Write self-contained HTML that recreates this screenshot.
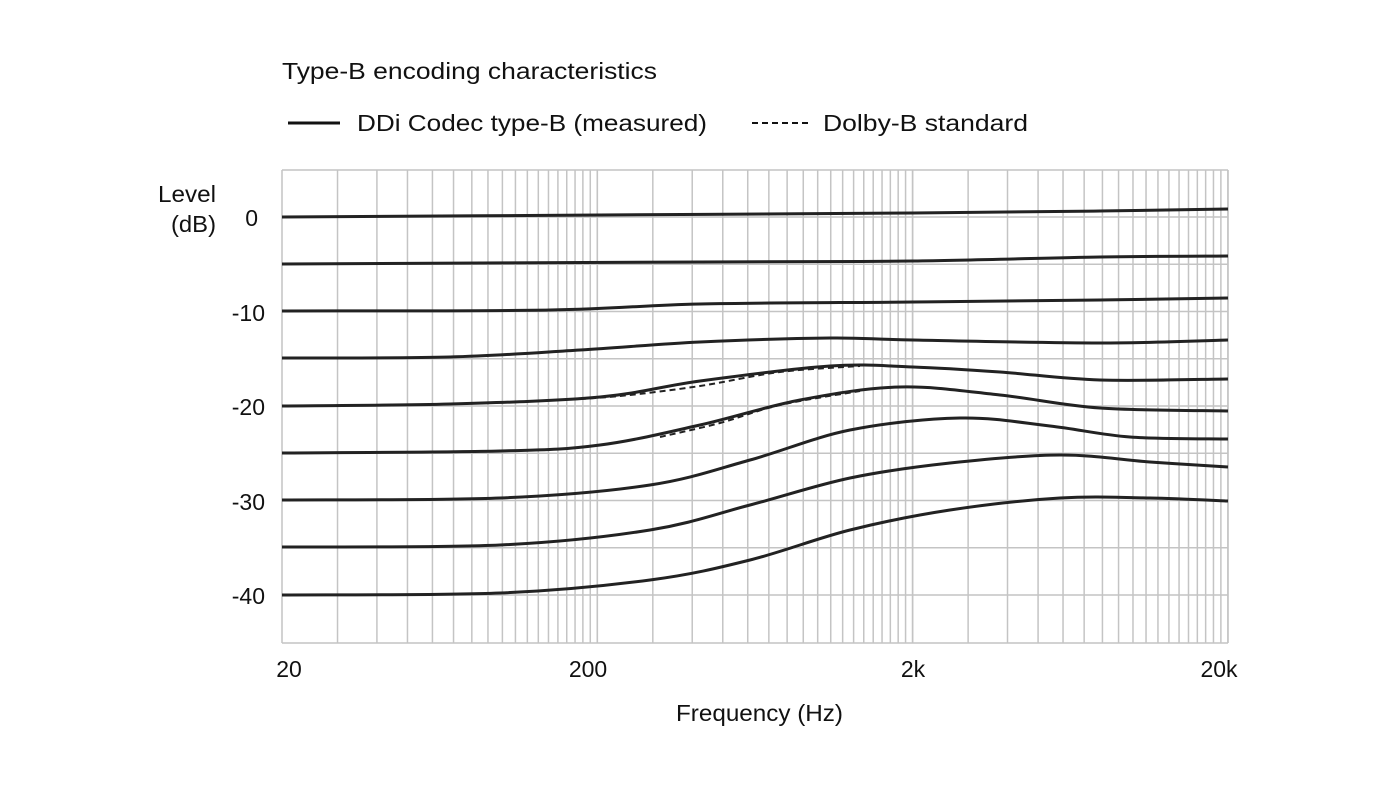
<!DOCTYPE html>
<html><head><meta charset="utf-8"><style>
body{margin:0;background:#fff;}
svg{display:block;font-family:"Liberation Sans",sans-serif;}
</style></head><body>
<svg id="s" width="1399" height="787" xmlns="http://www.w3.org/2000/svg">
<g id="grid" stroke="#c4c4c4" stroke-width="1.5" fill="none"></g>
<g id="curves" fill="none" stroke="#222" stroke-width="3"></g>
<g font-size="23" fill="#111">
<text x="282" y="79" textLength="375" lengthAdjust="spacingAndGlyphs">Type-B encoding characteristics</text>
<line x1="288" y1="123" x2="340" y2="123" stroke="#111" stroke-width="3"/>
<text x="357" y="131" textLength="350" lengthAdjust="spacingAndGlyphs">DDi Codec type-B (measured)</text>
<line x1="752" y1="123" x2="810" y2="123" stroke="#111" stroke-width="2" stroke-dasharray="6,4"/>
<text x="823" y="131" textLength="205" lengthAdjust="spacingAndGlyphs">Dolby-B standard</text>
<text x="158" y="202" textLength="58" lengthAdjust="spacingAndGlyphs">Level</text>
<text x="171" y="232" textLength="45" lengthAdjust="spacingAndGlyphs">(dB)</text>
<text x="258" y="226" text-anchor="end">0</text>
<text x="265" y="321" text-anchor="end">-10</text>
<text x="265" y="415" text-anchor="end">-20</text>
<text x="265" y="510" text-anchor="end">-30</text>
<text x="265" y="604" text-anchor="end">-40</text>
<text x="289" y="677" text-anchor="middle">20</text>
<text x="588" y="677" text-anchor="middle">200</text>
<text x="913" y="677" text-anchor="middle">2k</text>
<text x="1219" y="677" text-anchor="middle">20k</text>
<text x="676" y="721" textLength="167" lengthAdjust="spacingAndGlyphs">Frequency (Hz)</text>
</g>
</svg>
<script>
const X0=282,D=315.3,L=170,B=643,R=1228;
let g='';
for(let d=0;d<3;d++){const s=10*Math.pow(10,d);for(let k=2;k<=20;k++){const f=k*s;const x=X0+D*Math.log10(f/20);g+=`<line x1="${x}" y1="${L}" x2="${x}" y2="${B}"/>`;}}
g+=`<line x1="${X0}" y1="${L}" x2="${R}" y2="${L}"/><line x1="${X0}" y1="${B}" x2="${R}" y2="${B}"/><line x1="${R}" y1="${L}" x2="${R}" y2="${B}"/>`;
for(let k=0;k<=8;k++){const y=217+k*47.25;g+=`<line x1="${X0}" y1="${y}" x2="${R}" y2="${y}"/>`;}
document.getElementById('grid').innerHTML=g;
function cr(p){let s=`M${p[0][0]},${p[0][1]}`;for(let i=0;i<p.length-1;i++){const a=p[i-1]||p[i],b=p[i],c=p[i+1],d=p[i+2]||c;s+=` C${b[0]+(c[0]-a[0])/6},${b[1]+(c[1]-a[1])/6} ${c[0]-(d[0]-b[0])/6},${c[1]-(d[1]-b[1])/6} ${c[0]},${c[1]}`;}return s;}
const C=[
[[282,217],[600,215],[913,213],[1100,211],[1228,209]],
[[282,264],[700,262],[913,261],[1100,257],[1228,256]],
[[282,311],[550,310],[700,304],[913,302],[1100,300],[1228,298]],
[[282,358],[450,357],[580,350],[700,342],[830,338],[913,340],[1100,343],[1228,340]],
[[282,406],[450,404],[600,397],[700,381],[830,366],[913,367],[1000,372],[1100,380],[1228,379]],
[[282,453],[500,451],[600,445],[700,425],[800,400],[900,387],[1000,395],[1100,408],[1228,411]],
[[282,500],[500,498],[650,485],[750,460],[850,430],[960,418],[1050,426],[1130,437],[1228,439]],
[[282,547],[500,545],[650,530],[750,505],[850,478],[950,463],[1060,455],[1150,462],[1228,467]],
[[282,595],[500,593],[650,580],[750,560],[850,530],[950,510],[1060,498],[1150,498],[1228,501]]];
let h='';
for(const p of C)h+=`<path d="${cr(p)}"/>`;
h+=`<path stroke-width="2" stroke-dasharray="6,4" d="${cr([[560,400],[620,396],[700,386],[780,372],[860,366]])}"/>`;
h+=`<path stroke-width="2" stroke-dasharray="6,4" d="${cr([[660,437],[720,423],[780,405],[860,391]])}"/>`;
document.getElementById('curves').innerHTML=h;
</script>
</body></html>
